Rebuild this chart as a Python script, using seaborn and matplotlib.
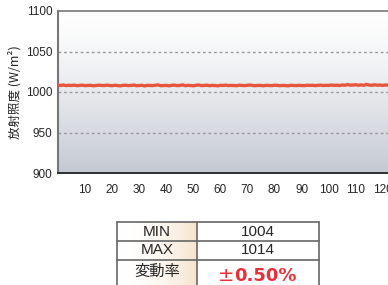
import numpy as np
import pandas as pd
import matplotlib
matplotlib.use('Agg')
import matplotlib.pyplot as plt
import seaborn as sns

# irradiance samples (W/m2), one per time step
irradiance = [
    1008.4, 1008.1, 1008.6, 1007.9, 1008.3, 1008.0, 1008.5, 1007.8, 1008.2, 1008.4,
    1007.9, 1008.1, 1008.3, 1007.7, 1008.0, 1008.4, 1008.2, 1007.9, 1008.5, 1008.1,
    1007.8, 1008.3, 1008.0, 1007.6, 1008.2, 1008.4, 1007.9, 1008.1, 1008.6, 1007.8,
    1008.0, 1008.3, 1007.5, 1008.2, 1008.1, 1007.9, 1008.4, 1008.7, 1007.8, 1008.0,
    1008.2, 1007.6, 1008.3, 1008.5, 1007.9, 1008.1, 1008.8, 1007.8, 1008.2, 1008.0,
    1007.7, 1008.3, 1008.6, 1007.9, 1008.1, 1008.4, 1007.8, 1008.2, 1008.0, 1007.6,
    1008.3, 1008.1, 1008.5, 1007.9, 1008.2, 1008.0, 1007.8, 1008.4, 1008.1, 1007.9,
    1008.3, 1008.6, 1008.0, 1007.8, 1008.2, 1008.1, 1007.7, 1008.3, 1008.0, 1007.9,
    1008.4, 1008.2, 1007.8, 1008.1, 1008.0, 1007.6, 1008.3, 1008.1, 1007.9, 1008.2,
    1008.0, 1007.8, 1008.4, 1008.1, 1008.3, 1007.9, 1008.2, 1008.5, 1008.0, 1008.3,
    1008.1, 1008.6, 1008.2, 1008.4, 1008.0, 1008.7, 1008.3, 1009.2, 1008.4, 1008.6,
    1009.0, 1008.3, 1008.8, 1008.2, 1009.4, 1008.5, 1008.3, 1008.9, 1008.4, 1008.6,
    1008.2, 1008.7, 1008.4,
]
time = list(range(len(irradiance)))

y_ticks = [900, 950, 1000, 1050, 1100]
x_ticks = [10, 20, 30, 40, 50, 60, 70, 80, 90, 100, 110, 120]

row_names = ['MIN', 'MAX', '変動率']
row_values = ['1004', '1014', '0.50%']

df = pd.DataFrame({'time': time, 'irradiance': irradiance})

sns.set_style('white')
plt.rcParams['font.family'] = ['Liberation Sans Narrow', 'Liberation Sans', 'Noto Sans CJK JP', 'DejaVu Sans']

fig = plt.figure(figsize=(3.88, 2.85), dpi=100)
ax = fig.add_axes([58 / 388, 1 - 173 / 285, 1 - 58 / 388 + 0.002, (173 - 11) / 285])

# background gradient white -> grey-blue
grad = np.linspace(0, 1, 256).reshape(-1, 1) ** 1.3
top = np.array([1.0, 1.0, 1.0])
bot = np.array([196, 201, 210]) / 255
img = top + (bot - top) * grad[..., None]
ax.imshow(img, extent=[0, 122.2, 900, 1100], aspect='auto', origin='upper', zorder=0)

for g in [950, 1000, 1050]:
    ax.axhline(g, color='#9a9a9a', lw=1, ls=(0, (2, 2)), zorder=1)

sns.lineplot(data=df, x='time', y='irradiance', color='#e8553e', lw=2.4, ax=ax, zorder=3)

ax.set_xlim(0, 122.2)
ax.set_ylim(900, 1100)
ax.set_xticks(x_ticks)
ax.set_yticks(y_ticks)
ax.set_xlabel('')
ax.set_ylabel('放射照度 (W/m²)', fontsize=9, family=['Noto Sans CJK JP', 'DejaVu Sans'], labelpad=3)
ax.tick_params(axis='x', direction='in', length=3, width=1.2, color='#333333', pad=8, labelsize=8.5)
ax.tick_params(axis='y', direction='in', length=3, width=1, color='#222222', pad=4, labelsize=8.5)
ax.spines['top'].set_color('#777777')
ax.spines['top'].set_linewidth(1.2)
ax.spines['left'].set_color('#777777')
ax.spines['left'].set_linewidth(1.5)
ax.spines['bottom'].set_color('#222222')
ax.spines['bottom'].set_linewidth(1.3)
ax.spines['right'].set_visible(False)

# summary table below the chart
tab = fig.add_axes([0, 0, 1, 1], zorder=5)
tab.axis('off')

x0, x1, x2 = 117, 197, 319
row_tops = [222, 241, 260, 280]
cell_grad = np.linspace(0, 1, 128).reshape(1, -1)
beige = np.array([245, 228, 205]) / 255
cimg = np.ones(3) + (beige - np.ones(3)) * cell_grad[..., None] ** 2
tab.imshow(cimg, extent=[x0, x1, 290, row_tops[0]], aspect='auto', zorder=0)

tab.plot([x0, x2], [row_tops[0], row_tops[0]], color='#666666', lw=1.2)
for yy in row_tops[1:3]:
    tab.plot([x0, x2], [yy, yy], color='#666666', lw=1.2)
for xx in [x0, x1, x2]:
    tab.plot([xx, xx], [row_tops[0], 290], color='#666666', lw=1.2)

for i, (name, val) in enumerate(zip(row_names, row_values)):
    yc = (row_tops[i] + row_tops[i + 1]) / 2
    if i == 2:
        tab.text((x0 + x1) / 2, yc + 1, name, ha='center', va='center', fontsize=11,
                 family=['Noto Sans CJK JP', 'DejaVu Sans'])
        tab.text(234, 281, '±', ha='right', va='baseline', fontsize=14,
                 color='#e8303a', family=['DejaVu Sans'])
        tab.text(234, 281, val, ha='left', va='baseline', fontsize=13,
                 fontweight='bold', color='#e8303a', family=['DejaVu Sans'])
    else:
        tab.text((x0 + x1) / 2, yc, name, ha='center', va='center', fontsize=11,
                 family=['Liberation Sans', 'DejaVu Sans'])
        tab.text((x1 + x2) / 2, yc, val, ha='center', va='center', fontsize=11,
                 family=['Liberation Sans', 'DejaVu Sans'])
tab.set_xlim(0, 388)
tab.set_ylim(285, 0)

fig.savefig('out.png', dpi=100)
